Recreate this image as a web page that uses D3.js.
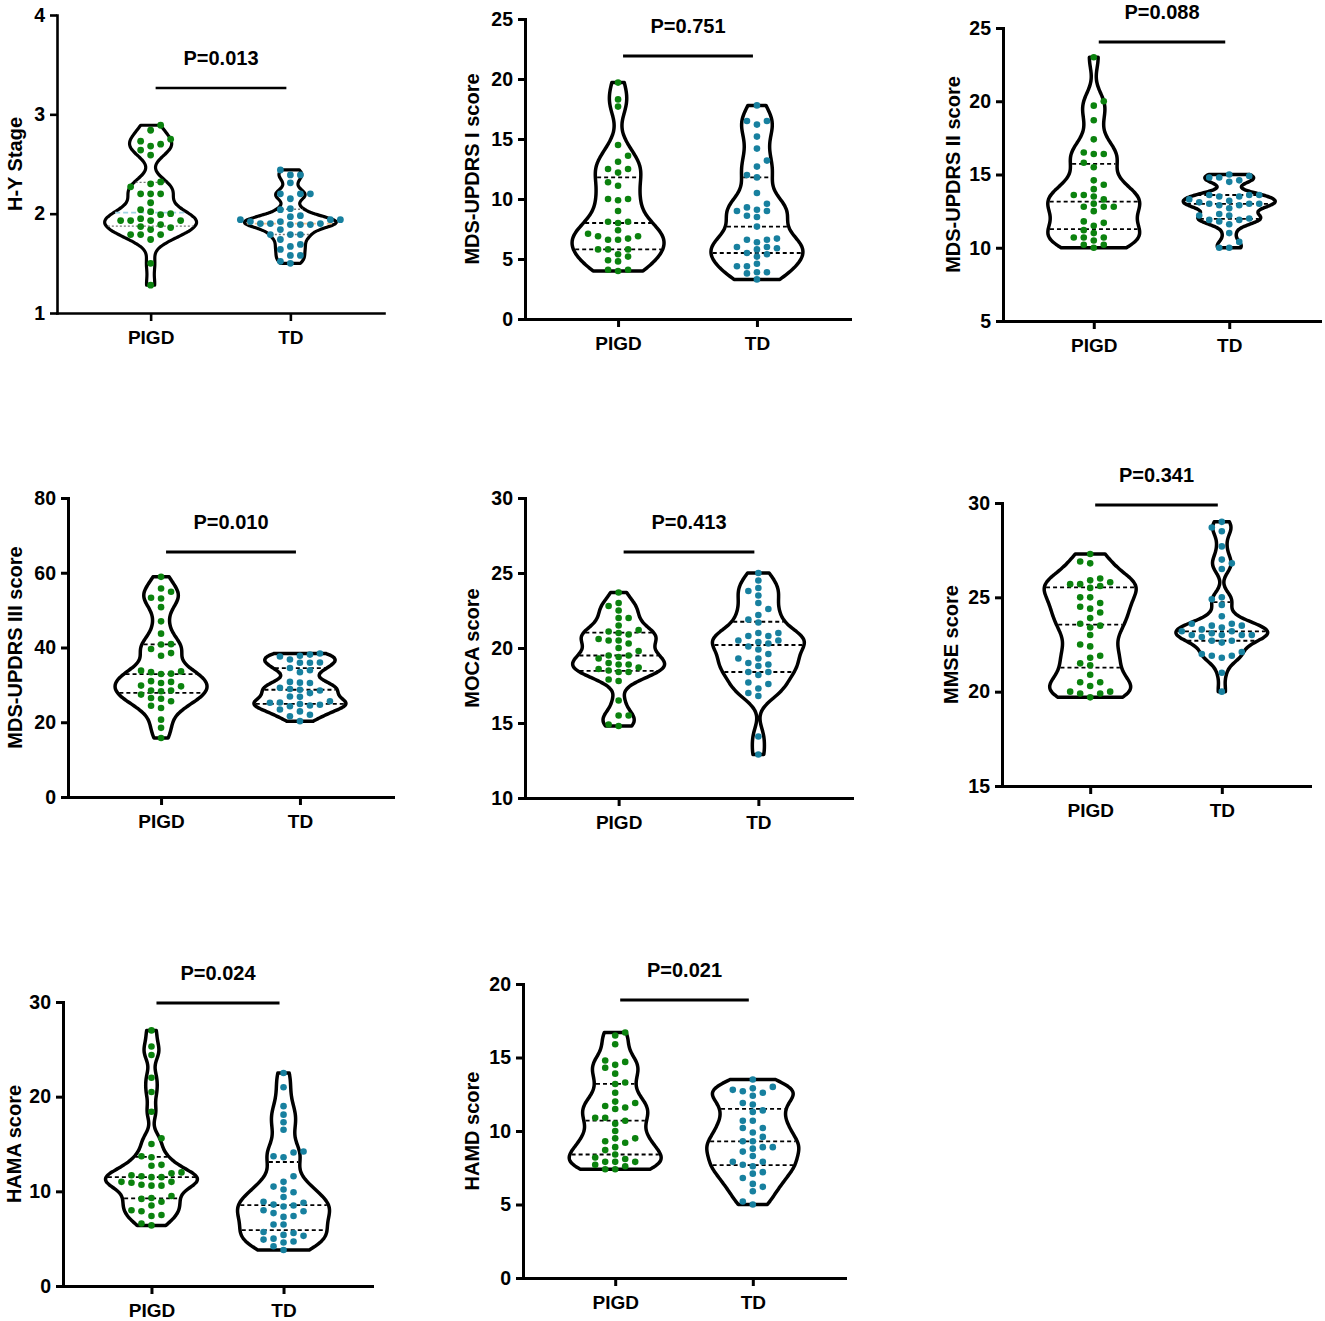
<!DOCTYPE html>
<html><head><meta charset="utf-8">
<script src="https://cdn.jsdelivr.net/npm/d3@7"></script>
<style>
body{margin:0;background:#fff}
svg{display:block}
text{font-family:"Liberation Sans",Arial,sans-serif;font-weight:bold;fill:#000}
</style>
</head><body>
<svg id="c" width="1325" height="1321"></svg>
<script>
// ---------------- DATA ----------------
const categories = ["PIGD", "TD"];
const yLabels = ["H-Y Stage","MDS-UPDRS I score","MDS-UPDRS II score","MDS-UPDRS III score","MOCA score","MMSE score","HAMA score","HAMD score"];
const pLabels = ["P=0.013","P=0.751","P=0.088","P=0.010","P=0.413","P=0.341","P=0.024","P=0.021"];
const yDomains = [[1,4],[0,25],[5,25],[0,80],[10,30],[15,30],[0,30],[0,20]];
const yTickValues = [[1,2,3,4],[0,5,10,15,20,25],[5,10,15,20,25],[0,20,40,60,80],[10,15,20,25,30],[15,20,25,30],[0,10,20,30],[0,5,10,15,20]];

const hyPIGD = [2.89,2.84,2.75,2.73,2.70,2.68,2.64,2.59,2.32,2.30,2.27,2.20,2.20,2.20,2.11,2.04,2.02,2.00,1.99,1.95,1.93,1.93,1.93,1.93,1.89,1.87,1.86,1.84,1.79,1.79,1.79,1.74,1.50,1.28];
const hyTD = [2.44,2.39,2.39,2.31,2.20,2.20,2.20,2.15,2.05,2.04,1.98,1.97,1.94,1.94,1.94,1.92,1.92,1.90,1.90,1.90,1.89,1.89,1.89,1.84,1.79,1.79,1.79,1.74,1.69,1.67,1.64,1.58,1.58,1.52,1.50];

const u1PIGD = [19.7,18.3,17.7,14.5,13.6,13.1,12.5,12.5,12.2,11.4,11.1,10.0,10.0,9.9,9.0,8.1,8.1,8.0,7.4,7.1,6.9,6.9,6.7,6.6,6.6,5.8,5.8,5.8,5.4,5.2,4.9,4.8,4.1,4.1,4.0];
const u1TD = [17.8,16.5,16.5,16.2,15.2,14.2,13.2,12.7,12.0,11.8,10.5,9.6,9.3,9.1,9.0,9.0,8.6,8.5,7.7,6.7,6.6,6.6,6.4,6.0,6.0,5.9,5.8,5.5,5.4,5.2,4.6,4.4,4.4,3.9,3.9,3.8,3.3];

const u2PIGD = [23.0,20.0,19.7,18.7,17.4,16.5,16.4,16.4,15.8,15.5,14.6,14.3,14.0,13.6,13.6,13.5,13.3,13.0,12.8,12.8,12.8,12.5,11.8,11.7,11.5,11.2,11.0,10.7,10.7,10.7,10.5,10.2,10.2,10.0];
const u2TD = [15.0,14.9,14.8,14.8,14.6,14.5,13.6,13.6,13.6,13.5,13.5,13.3,13.2,13.1,13.0,13.0,13.0,12.9,12.9,12.7,12.3,12.2,12.2,12.0,11.9,11.9,11.8,11.6,11.0,10.4,10.0,10.0];

const u3PIGD = [58.9,55.8,54.9,53.3,53.1,50.8,47.0,43.7,40.9,40.8,39.6,38.5,37.8,33.8,33.6,33.4,33.0,32.9,31.0,30.8,30.5,29.8,29.6,28.5,28.5,28.3,27.4,26.5,26.3,25.6,24.4,23.8,20.7,18.5,15.8];
const u3TD = [38.4,38.1,37.8,37.6,36.8,36.0,35.9,35.9,34.5,33.9,33.4,30.8,30.6,30.5,29.2,28.9,28.7,28.5,27.8,26.9,26.8,25.6,25.3,25.2,24.9,24.7,24.5,24.3,23.4,22.9,22.0,21.6,20.3];

const mocaPIGD = [23.7,23.0,22.8,22.5,22.0,22.0,21.5,21.2,21.1,21.0,20.9,20.6,20.5,20.5,20.3,20.0,19.8,19.5,19.5,19.4,19.3,19.0,18.9,18.9,18.7,18.6,18.5,18.4,18.4,17.9,17.8,16.5,15.5,15.5,14.9,14.8];
const mocaTD = [25.0,24.5,24.0,23.8,23.5,23.0,22.6,22.2,21.9,21.7,21.0,21.0,20.8,20.8,20.5,20.5,20.4,20.3,20.1,19.9,19.6,19.3,19.3,19.0,18.9,18.8,18.4,18.4,18.2,17.7,17.6,17.3,17.0,16.8,14.1,12.9];

const mmsePIGD = [27.3,26.9,26.8,26.0,25.9,25.8,25.7,25.7,25.6,25.5,25.0,25.0,24.7,24.5,24.4,24.2,23.9,23.6,23.5,23.4,23.0,22.5,22.4,21.9,21.8,21.5,21.4,20.9,20.5,20.5,20.3,20.0,20.0,19.9,19.9,19.7];
const mmseTD = [29.0,28.7,28.5,27.7,27.0,26.8,26.5,25.0,24.9,24.6,24.0,23.6,23.6,23.5,23.5,23.4,23.3,23.2,23.2,23.1,23.0,23.0,23.0,23.0,22.9,22.7,22.7,22.6,22.1,22.0,21.9,21.9,21.8,21.0,20.0];

const hamaPIGD = [27.0,25.3,24.4,22.0,20.5,18.4,15.6,15.0,13.7,13.6,12.8,12.7,12.0,11.9,11.7,11.6,11.5,11.5,11.0,11.0,10.9,10.7,10.6,10.6,9.5,9.3,9.2,8.9,8.5,8.0,7.9,7.5,7.4,6.6,6.4];
const hamaTD = [22.5,21.0,19.0,18.1,17.3,16.5,14.2,14.1,13.7,13.6,11.6,11.0,10.5,10.2,9.9,9.4,8.9,8.8,8.6,8.5,8.4,8.0,7.9,7.7,7.4,7.3,6.5,6.5,5.7,5.6,5.4,5.3,5.0,4.9,4.7,4.6,4.2,3.8];

const hamdPIGD = [16.7,16.5,15.9,14.8,14.7,14.5,14.3,13.9,13.3,13.2,12.6,12.0,11.9,11.7,11.6,11.5,10.9,10.9,10.7,10.5,10.0,9.5,9.5,9.3,9.2,8.9,8.7,8.4,8.2,8.1,7.9,7.9,7.9,7.7,7.6,7.4,7.4];
const hamdTD = [13.5,13.0,12.9,12.8,12.7,12.6,12.4,11.9,11.8,11.4,11.3,10.7,10.7,10.2,10.2,9.9,9.6,9.3,9.3,8.9,8.9,8.8,8.6,8.3,7.9,7.9,7.7,7.6,7.2,7.1,6.8,6.4,6.2,5.9,5.2,5.0];

const panelData = [[hyPIGD,hyTD],[u1PIGD,u1TD],[u2PIGD,u2TD],[u3PIGD,u3TD],[mocaPIGD,mocaTD],[mmsePIGD,mmseTD],[hamaPIGD,hamaTD],[hamdPIGD,hamdTD]];

// ---------------- LAYOUT / STYLE ----------------
const layout = [
  {ax:57,  top:15,  bot:313,  end:384,  labX:15,  barY:88},
  {ax:525, top:19,  bot:319,  end:850,  labX:472, barY:56},
  {ax:1003,top:28,  bot:321,  end:1320, labX:953, barY:42},
  {ax:68,  top:498, bot:797,  end:393,  labX:15,  barY:552},
  {ax:525, top:498, bot:798,  end:852,  labX:472, barY:552},
  {ax:1002,top:503, bot:786,  end:1310, labX:951, barY:505},
  {ax:63,  top:1002,bot:1286, end:372,  labX:14,  barY:1003},
  {ax:523, top:984, bot:1278, end:845,  labX:472, barY:1000}
];
const dotColors = ["#0b820e", "#17809f"];
const halfWidth = 46;
const bwFactor = 0.62;

const svg = d3.select("#c");

function gauss(u){ return Math.exp(-0.5*u*u)/Math.sqrt(2*Math.PI); }

function swarm(values, y, cx, r, step){
  const pts = values.map(v => ({v, py:y(v)})).sort((a,b)=>b.py-a.py);
  const placed = [];
  const colCount = {};
  for (const p of pts){
    let chosen = null;
    for (let k=0; k<8 && chosen===null; k++){
      const cands = k===0 ? [0] : ((colCount[-k]||0) <= (colCount[k]||0) ? [-k,k] : [k,-k]);
      for (const c of cands){
        const clash = placed.some(q => q.col===c && Math.abs(q.py-p.py) < 2*r+0.5);
        if (!clash){ chosen = c; break; }
      }
    }
    if (chosen===null) chosen = 0;
    p.col = chosen; colCount[chosen] = (colCount[chosen]||0)+1;
    p.px = cx + chosen*step;
    placed.push(p);
  }
  return placed;
}

panelData.forEach((groups, pi) => {
  const L = layout[pi];
  const g = svg.append("g");
  const y = d3.scaleLinear().domain(yDomains[pi]).range([L.bot, L.top]);
  const x = d3.scalePoint().domain(categories).range([L.ax, L.end]).padding(0.67);
  const sw = pi===0 ? 2.6 : 3;
  const vsw = pi===0 ? 3.2 : 3.5;

  // violins
  groups.forEach((vals, gi) => {
    const cx = x(categories[gi]);
    const sorted = vals.slice().sort(d3.ascending);
    const lo = sorted[0], hi = sorted[sorted.length-1];
    const sd = d3.deviation(sorted);
    const iqr = d3.quantile(sorted,0.75)-d3.quantile(sorted,0.25);
    const bw = bwFactor*0.9*Math.min(sd, iqr/1.34 || sd)*Math.pow(sorted.length,-0.2);
    const N = 120;
    const dens = d3.range(N+1).map(i => { const t = lo+(hi-lo)*i/N; return [t, d3.mean(sorted, v => gauss((t-v)/bw))]; });
    const maxD = d3.max(dens, d=>d[1]);
    const w = d3.scaleLinear().domain([0,maxD]).range([0,halfWidth]);
    const area = d3.area().y(d=>y(d[0])).x0(d=>cx-w(d[1])).x1(d=>cx+w(d[1])).curve(d3.curveBasis);
    g.append("path").attr("d", area(dens)).attr("fill","#fff").attr("stroke","#000")
      .attr("stroke-width", vsw).attr("stroke-linejoin","round");
    const densAt = t => { const f = (t-lo)/(hi-lo)*N; const i = Math.max(0,Math.min(N-1,Math.floor(f))); const a=f-i; return dens[i][1]*(1-a)+dens[i+1][1]*a; };
    [0.25,0.5,0.75].forEach(q => {
      const qv = d3.quantile(sorted,q);
      const hw = w(densAt(qv)) - vsw/2;
      let color = "#000", dash = "4,3", lw = 1.8;
      if (pi===0){
        if (q===0.5){ color = gi===0 ? "#9fd3e3" : "#f5c08c"; dash = "5,3"; lw=1.6; }
        else { color = "#777"; dash = "2,2"; lw=1.4; }
      }
      g.append("line").attr("x1",cx-hw).attr("x2",cx+hw).attr("y1",y(qv)).attr("y2",y(qv))
        .attr("stroke",color).attr("stroke-width",lw).attr("stroke-dasharray",dash);
    });
    const r = pi===0 ? 3.4 : 3.3;
    const dots = swarm(vals, y, cx, r, 10);
    g.selectAll(null).data(dots).join("circle").attr("cx",d=>d.px).attr("cy",d=>d.py).attr("r",r)
      .attr("fill",dotColors[gi]);
  });

  // axes
  const yAxis = d3.axisLeft(y).tickValues(yTickValues[pi]).tickSize(7).tickSizeOuter(0).tickPadding(5).tickFormat(d3.format("d"));
  const ya = g.append("g").attr("transform",`translate(${L.ax},0)`).call(yAxis);
  const xAxis = d3.axisBottom(x).tickSize(8).tickSizeOuter(0).tickPadding(10);
  const xa = g.append("g").attr("transform",`translate(0,${L.bot})`).call(xAxis);
  [ya,xa].forEach(a => {
    a.select(".domain").attr("stroke-width",sw).attr("stroke-linecap","square");
    a.selectAll(".tick line").attr("stroke-width",sw);
    a.selectAll(".tick text").attr("font-size",19.5).attr("font-family",'"Liberation Sans",Arial,sans-serif').attr("font-weight","bold");
  });
  xa.selectAll(".tick text").attr("font-size",19);

  // y label
  g.append("text").attr("transform",`translate(${L.labX+7},${(L.top+L.bot)/2}) rotate(-90)`)
    .attr("text-anchor","middle").attr("font-size",20).text(yLabels[pi]);

  // significance bar
  const bx1 = x(categories[0])+5, bx2 = x(categories[1])-4;
  g.append("line").attr("x1",bx1).attr("x2",bx2).attr("y1",L.barY).attr("y2",L.barY)
    .attr("stroke","#000").attr("stroke-width",sw);
  g.append("text").attr("x",(bx1+bx2)/2).attr("y",L.barY-23).attr("text-anchor","middle")
    .attr("font-size",20).text(pLabels[pi]);
});
</script>
</body></html>
